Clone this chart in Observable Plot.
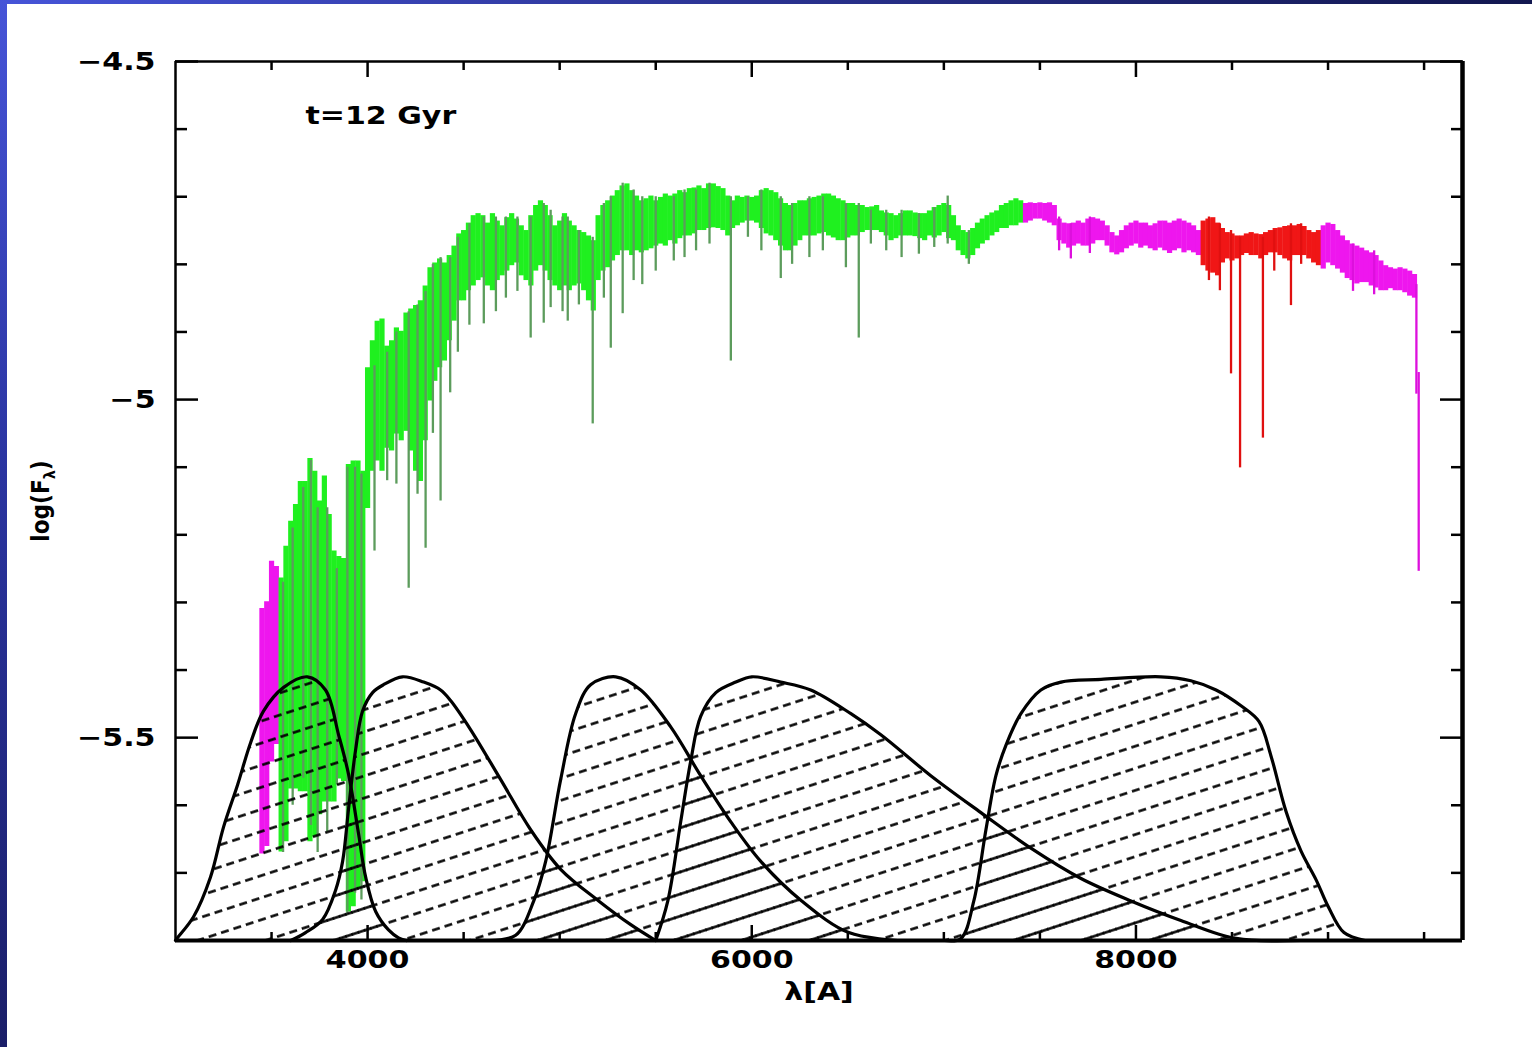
<!DOCTYPE html>
<html>
<head>
<meta charset="utf-8">
<script src="https://cdn.jsdelivr.net/npm/d3@7"></script>
<script src="https://cdn.jsdelivr.net/npm/@observablehq/plot@0.6"></script>
<style>
html, body { margin: 0; padding: 0; background: #ffffff; }
#wrap { position: relative; width: 1532px; height: 1047px; overflow: hidden; background: #ffffff; }
#chart { position: absolute; left: 0; top: 0; }
#bandLeft { position: absolute; left: 0; top: 0; width: 7px; height: 1047px; background: linear-gradient(#4654d8, #2a34a0 45%, #1a1e68); }
#bandTop { position: absolute; left: 0; top: 0; width: 1532px; height: 4px; background: linear-gradient(90deg, #4654d8, #2a3290 50%, #12174f); }
</style>
</head>
<body>
<div id="wrap"><div id="chart"></div><div id="bandLeft"></div><div id="bandTop"></div></div>
<script>
// ---------- axes ----------
const xDomain = [3000, 9700];
const yDomain = [-5.8, -4.5];
const xMajor = [4000, 6000, 8000];
const xMinor = [3500, 4500, 5000, 5500, 6500, 7000, 7500, 8500, 9000, 9500];
const yMajor = [-4.5, -5, -5.5];
const yMinor = [-4.6, -4.7, -4.8, -4.9, -5.1, -5.2, -5.3, -5.4, -5.6, -5.7];
const annotation = "t=12 Gyr";
const xLabel = "λ[A]";

// ---------- spectrum: [wavelength, upper logF, lower logF] per 25 Å bin ----------
const spectrum = [
[3450,-5.309,-5.672],[3475,-5.299,-5.661],[3500,-5.239,-5.536],[3525,-5.247,-5.510],
[3550,-5.264,-5.669],[3575,-5.217,-5.654],[3600,-5.180,-5.576],[3625,-5.155,-5.576],
[3650,-5.121,-5.580],[3675,-5.121,-5.580],[3700,-5.087,-5.654],[3725,-5.106,-5.647],
[3750,-5.150,-5.614],[3775,-5.113,-5.595],[3800,-5.170,-5.595],[3825,-5.224,-5.595],
[3850,-5.232,-5.561],[3875,-5.235,-5.565],[3900,-5.096,-5.758],[3925,-5.091,-5.750],
[3950,-5.091,-5.724],[3975,-5.106,-5.713],
[4000,-4.953,-5.161],[4025,-4.913,-5.106],[4050,-4.884,-5.091],[4075,-4.881,-5.106],
[4100,-4.921,-5.072],[4125,-4.913,-5.076],[4150,-4.894,-5.051],[4175,-4.899,-5.061],
[4200,-4.872,-5.047],[4225,-4.866,-5.076],[4250,-4.861,-5.106],[4275,-4.854,-5.121],
[4300,-4.832,-5.061],[4325,-4.805,-5.002],[4350,-4.798,-4.973],[4375,-4.792,-4.953],
[4400,-4.798,-4.943],[4425,-4.787,-4.913],[4450,-4.773,-4.884],[4475,-4.755,-4.854],
[4500,-4.750,-4.854],[4525,-4.739,-4.839],[4550,-4.728,-4.832],[4575,-4.725,-4.824],
[4600,-4.728,-4.820],[4625,-4.739,-4.832],[4650,-4.725,-4.839],[4675,-4.736,-4.824],
[4700,-4.743,-4.817],[4725,-4.731,-4.810],[4750,-4.725,-4.802],[4775,-4.733,-4.798],
[4800,-4.743,-4.817],[4825,-4.750,-4.824],[4850,-4.728,-4.832],[4875,-4.713,-4.810],
[4900,-4.706,-4.802],[4925,-4.713,-4.810],[4950,-4.728,-4.824],[4975,-4.743,-4.832],
[5000,-4.736,-4.839],[5025,-4.725,-4.832],[5050,-4.736,-4.839],[5075,-4.743,-4.832],
[5100,-4.750,-4.829],[5125,-4.753,-4.839],[5150,-4.758,-4.854],[5175,-4.765,-4.869],
[5200,-4.728,-4.824],[5225,-4.713,-4.810],[5250,-4.706,-4.805],[5275,-4.699,-4.795],
[5300,-4.691,-4.787],[5325,-4.684,-4.780],[5350,-4.681,-4.780],[5375,-4.691,-4.787],
[5400,-4.699,-4.780],[5425,-4.706,-4.783],[5450,-4.703,-4.780],[5475,-4.699,-4.777],
[5500,-4.706,-4.773],[5525,-4.701,-4.770],[5550,-4.696,-4.773],[5575,-4.699,-4.765],
[5600,-4.696,-4.770],[5625,-4.691,-4.762],[5650,-4.694,-4.758],[5675,-4.688,-4.758],
[5700,-4.687,-4.755],[5725,-4.684,-4.750],[5750,-4.688,-4.750],[5775,-4.681,-4.747],
[5800,-4.681,-4.746],[5825,-4.685,-4.747],[5850,-4.688,-4.750],[5875,-4.699,-4.758],
[5900,-4.706,-4.747],[5925,-4.699,-4.743],[5950,-4.701,-4.739],[5975,-4.699,-4.736],
[6000,-4.701,-4.736],[6025,-4.699,-4.739],[6050,-4.691,-4.747],[6075,-4.688,-4.755],
[6100,-4.691,-4.758],[6125,-4.694,-4.765],[6150,-4.703,-4.773],[6175,-4.710,-4.780],
[6200,-4.713,-4.780],[6225,-4.710,-4.773],[6250,-4.706,-4.765],[6275,-4.706,-4.758],
[6300,-4.703,-4.758],[6325,-4.701,-4.758],[6350,-4.699,-4.755],[6375,-4.696,-4.753],
[6400,-4.696,-4.758],[6425,-4.699,-4.761],[6450,-4.703,-4.765],[6475,-4.706,-4.765],
[6500,-4.710,-4.761],[6525,-4.710,-4.758],[6550,-4.713,-4.758],[6575,-4.713,-4.753],
[6600,-4.716,-4.750],[6625,-4.715,-4.750],[6650,-4.713,-4.750],[6675,-4.721,-4.753],
[6700,-4.724,-4.758],[6725,-4.725,-4.765],[6750,-4.728,-4.762],[6775,-4.725,-4.758],
[6800,-4.721,-4.758],[6825,-4.721,-4.758],[6850,-4.724,-4.759],[6875,-4.725,-4.762],
[6900,-4.725,-4.765],[6925,-4.721,-4.758],[6950,-4.716,-4.761],[6975,-4.713,-4.758],
[7000,-4.710,-4.753],[7025,-4.713,-4.762],[7050,-4.728,-4.765],[7075,-4.743,-4.780],
[7100,-4.750,-4.787],[7125,-4.753,-4.792],[7150,-4.747,-4.787],[7175,-4.739,-4.777],
[7200,-4.733,-4.770],[7225,-4.728,-4.765],[7250,-4.724,-4.758],[7275,-4.721,-4.753],
[7300,-4.713,-4.747],[7325,-4.710,-4.747],[7350,-4.706,-4.743],[7375,-4.703,-4.743],
[7400,-4.706,-4.739],[7425,-4.710,-4.739],[7450,-4.709,-4.736],[7475,-4.710,-4.733],
[7500,-4.709,-4.733],[7525,-4.710,-4.736],[7550,-4.709,-4.739],[7575,-4.713,-4.743],
[7600,-4.733,-4.765],[7625,-4.739,-4.770],[7650,-4.740,-4.776],[7675,-4.739,-4.773],
[7700,-4.736,-4.770],[7725,-4.739,-4.773],[7750,-4.733,-4.773],[7775,-4.731,-4.770],
[7800,-4.733,-4.765],[7825,-4.736,-4.765],[7850,-4.743,-4.773],[7875,-4.753,-4.783],
[7900,-4.758,-4.786],[7925,-4.750,-4.783],[7950,-4.743,-4.777],[7975,-4.739,-4.773],
[8000,-4.736,-4.770],[8025,-4.739,-4.776],[8050,-4.739,-4.773],[8075,-4.743,-4.777],
[8100,-4.740,-4.780],[8125,-4.736,-4.776],[8150,-4.736,-4.780],[8175,-4.739,-4.784],
[8200,-4.736,-4.780],[8225,-4.733,-4.777],[8250,-4.736,-4.783],[8275,-4.739,-4.780],
[8300,-4.743,-4.783],[8325,-4.750,-4.787],[8350,-4.736,-4.802],[8375,-4.733,-4.810],
[8400,-4.731,-4.813],[8425,-4.739,-4.817],[8450,-4.747,-4.798],[8475,-4.753,-4.792],
[8500,-4.755,-4.795],[8525,-4.758,-4.792],[8550,-4.758,-4.787],[8575,-4.755,-4.784],
[8600,-4.753,-4.787],[8625,-4.755,-4.787],[8650,-4.756,-4.792],[8675,-4.753,-4.787],
[8700,-4.750,-4.783],[8725,-4.747,-4.783],[8750,-4.746,-4.787],[8775,-4.744,-4.792],
[8800,-4.743,-4.795],[8825,-4.743,-4.787],[8850,-4.741,-4.787],[8875,-4.744,-4.787],
[8900,-4.750,-4.792],[8925,-4.753,-4.798],[8950,-4.750,-4.802],[8975,-4.743,-4.807],
[9000,-4.739,-4.798],[9025,-4.741,-4.802],[9050,-4.750,-4.807],[9075,-4.758,-4.813],
[9100,-4.765,-4.821],[9125,-4.770,-4.824],[9150,-4.773,-4.829],[9175,-4.776,-4.827],
[9200,-4.780,-4.827],[9225,-4.783,-4.832],[9250,-4.787,-4.835],[9275,-4.795,-4.839],
[9300,-4.802,-4.839],[9325,-4.805,-4.836],[9350,-4.807,-4.839],[9375,-4.805,-4.839],
[9400,-4.807,-4.842],[9425,-4.810,-4.847],[9450,-4.815,-4.850]
];

// ---------- narrow absorption features: [wavelength, top logF, bottom logF] ----------
const absorption = [
[3560,-5.27,-5.67],[3610,-5.19,-5.60],[3665,-5.13,-5.56],[3705,-5.09,-5.63],[3740,-5.16,-5.67],
[3790,-5.16,-5.64],[3840,-5.25,-5.57],[3895,-5.10,-5.76],[3935,-5.10,-5.73],[3968,-5.11,-5.74],
[4036,-4.95,-5.224],[4102,-4.93,-5.12],[4150,-4.90,-5.125],[4214,-4.87,-5.279],[4260,-4.86,-5.14],
[4302,-4.84,-5.220],[4340,-4.80,-5.05],[4380,-4.79,-5.150],[4430,-4.79,-4.99],[4470,-4.76,-4.93],
[4530,-4.74,-4.89],[4605,-4.73,-4.888],[4668,-4.73,-4.87],[4720,-4.73,-4.85],[4780,-4.73,-4.84],
[4849,-4.73,-4.909],[4917,-4.71,-4.887],[4953,-4.72,-4.864],[5015,-4.73,-4.87],[5042,-4.73,-4.884],
[5100,-4.75,-4.86],[5172,-4.76,-5.036],[5230,-4.71,-4.85],[5266,-4.70,-4.924],[5328,-4.68,-4.873],
[5385,-4.69,-4.824],[5430,-4.70,-4.83],[5500,-4.70,-4.81],[5594,-4.70,-4.795],[5650,-4.69,-4.79],
[5710,-4.69,-4.78],[5780,-4.68,-4.77],[5891,-4.70,-4.943],[5980,-4.70,-4.76],[6050,-4.69,-4.78],
[6151,-4.70,-4.821],[6210,-4.71,-4.80],[6300,-4.70,-4.79],[6370,-4.70,-4.78],[6490,-4.71,-4.805],
[6557,-4.71,-4.909],[6620,-4.72,-4.77],[6700,-4.72,-4.78],[6780,-4.72,-4.79],[6870,-4.725,-4.785],
[6950,-4.716,-4.775],[7020,-4.699,-4.77],[7130,-4.75,-4.80],
[7600,-4.73,-4.78],[7661,-4.74,-4.792],[7760,-4.73,-4.784],
[8380,-4.73,-4.824],[8437,-4.74,-4.839],[8495,-4.75,-4.962],[8542,-4.76,-5.101],[8661,-4.76,-5.057],
[8720,-4.75,-4.81],[8807,-4.74,-4.861],[8860,-4.74,-4.80],
[9130,-4.77,-4.84],[9240,-4.78,-4.845],[9460,-4.83,-4.992],[9472,-4.96,-5.254]
];

// ---------- wavelength ranges of each colour segment ----------
const segmentEdges = [3536, 7411, 8338, 8953];
const segmentNames = ["magenta", "green", "magenta", "red", "magenta"];
const bodyColors = {magenta: "#ee16ee", green: "#1ff01f", red: "#f01616"};
const lineColors = {magenta: "#dd10dd", green: "#5c9c5c", red: "#e01010"};

// ---------- filter transmission curves: [wavelength, relative transmission] ----------
const filterU = [[3000,0],[3010,0.01],[3094,0.09],[3182,0.24],[3250,0.43],[3323,0.59],[3391,0.75],[3458,0.87],[3563,0.96],[3687,1.00],[3781,0.95],[3849,0.78],[3901,0.63],[3953,0.405],[3990,0.24],[4042,0.11],[4109,0.04],[4161,0.01],[4200,0]];
const filterB = [[3600,0],[3677,0.03],[3766,0.08],[3833,0.19],[3870,0.30],[3901,0.50],[3937,0.72],[3974,0.87],[4026,0.94],[4083,0.97],[4182,1.00],[4292,0.98],[4380,0.95],[4432,0.91],[4536,0.80],[4693,0.61],[4849,0.42],[5005,0.27],[5203,0.15],[5370,0.06],[5500,0]];
const filterV = [[4641,0],[4771,0.02],[4865,0.15],[4927,0.30],[5005,0.61],[5083,0.86],[5161,0.97],[5292,1.00],[5422,0.95],[5578,0.81],[5734,0.625],[5891,0.45],[6047,0.30],[6260,0.15],[6505,0.03],[6760,0]];
const filterR = [[5500,0],[5563,0.15],[5630,0.45],[5682,0.68],[5734,0.85],[5813,0.94],[5917,0.98],[6000,1.00],[6151,0.98],[6307,0.95],[6516,0.86],[6672,0.78],[6932,0.625],[7193,0.485],[7453,0.35],[7714,0.235],[7974,0.15],[8234,0.076],[8521,0.008],[8860,0]];
const filterI = [[7005,0],[7089,0.008],[7156,0.15],[7219,0.42],[7271,0.625],[7323,0.74],[7401,0.86],[7505,0.95],[7609,0.98],[7818,0.99],[8130,1.00],[8286,0.985],[8417,0.95],[8547,0.89],[8641,0.83],[8703,0.70],[8781,0.49],[8859,0.34],[8938,0.23],[9000,0.13],[9083,0.03],[9193,0]];
const filterBase = -5.8;   // zero transmission level on the log(F) axis
const filterPeak = -5.41;  // full transmission level on the log(F) axis

// ---------- helpers ----------
const seg = lam => segmentNames[d3.bisectRight(segmentEdges, lam)];
const fy = d => filterBase + d[1] * (filterPeak - filterBase);
const filters = [[filterU, "hatchA"], [filterB, "hatchB"], [filterV, "hatchA"], [filterR, "hatchB"], [filterI, "hatchA"]];

const filterMarks = filters.flatMap(([data, pat]) => [
  Plot.areaY(data, {x: d => d[0], y1: filterBase, y2: fy, fill: `url(#${pat})`, curve: "catmull-rom"}),
  Plot.line(data, {x: d => d[0], y: fy, stroke: "#000", strokeWidth: 3.2, curve: "catmull-rom"})
]);

const tickOpts = {stroke: "#000", strokeWidth: 2.5, fill: "none", label: null};
const labelOpts = {tickSize: 0, label: null, fontSize: 25, fontWeight: "bold"};

const chart = Plot.plot({
  width: 1532,
  height: 1047,
  marginLeft: 175,
  marginRight: 70,
  marginTop: 61,
  marginBottom: 107,
  x: {domain: xDomain},
  y: {domain: yDomain},
  style: {background: "transparent", color: "#000", fontFamily: "'DejaVu Sans', sans-serif", fontWeight: "bold", overflow: "visible"},
  marks: [
    Plot.ruleX(spectrum, {x: d => d[0], y1: d => d[1], y2: d => d[2], stroke: d => bodyColors[seg(d[0])], strokeWidth: 5.2}),
    Plot.ruleX(absorption, {x: d => d[0], y1: d => d[1], y2: d => d[2], stroke: d => lineColors[seg(d[0])], strokeWidth: 2.3}),
    ...filterMarks,
    Plot.ruleY([yDomain[1]], {stroke: "#000", strokeWidth: 2.5}),
    Plot.ruleY([yDomain[0]], {stroke: "#000", strokeWidth: 4}),
    Plot.ruleX([xDomain[0]], {stroke: "#000", strokeWidth: 2.5}),
    Plot.ruleX([xDomain[1]], {stroke: "#000", strokeWidth: 4.5}),
    Plot.axisX(xMajor, {anchor: "bottom", tickSize: -15, ...tickOpts}),
    Plot.axisX(xMajor, {anchor: "top", tickSize: -15, ...tickOpts}),
    Plot.axisX(xMinor, {anchor: "bottom", tickSize: -8, ...tickOpts}),
    Plot.axisX(xMinor, {anchor: "top", tickSize: -8, ...tickOpts}),
    Plot.axisY(yMajor, {anchor: "left", tickSize: -23, ...tickOpts}),
    Plot.axisY(yMajor, {anchor: "right", tickSize: -23, ...tickOpts}),
    Plot.axisY(yMinor, {anchor: "left", tickSize: -12, ...tickOpts}),
    Plot.axisY(yMinor, {anchor: "right", tickSize: -12, ...tickOpts}),
    Plot.axisX(xMajor, {anchor: "bottom", tickPadding: 10, tickFormat: d => String(d), ...labelOpts}),
    Plot.axisY(yMajor, {anchor: "left", tickPadding: 20, tickFormat: d => "\u2212" + String(Math.abs(d)), ...labelOpts}),
    Plot.text([annotation], {frameAnchor: "top-left", dx: 130, dy: 54, textAnchor: "start", lineAnchor: "middle", fontSize: 25, fontWeight: "bold"}),
    Plot.text([xLabel], {frameAnchor: "bottom", dy: 51, lineAnchor: "middle", fontSize: 25, fontWeight: "bold"}),
    Plot.text(["log(F)"], {frameAnchor: "left", dx: -134, rotate: -90, textAnchor: "middle", lineAnchor: "middle", fontSize: 24, fontWeight: "bold"})
  ]
});

document.getElementById("chart").appendChild(chart);

// hatch patterns
const svg = d3.select(chart);
const defs = svg.insert("defs", ":first-child");
[["hatchA", 0], ["hatchB", 6.5]].forEach(([id, off]) => {
  const p = defs.append("pattern")
    .attr("id", id)
    .attr("patternUnits", "userSpaceOnUse")
    .attr("width", 26).attr("height", 21)
    .attr("patternTransform", `rotate(-18) translate(${off},0)`);
  p.append("line")
    .attr("x1", 0).attr("x2", 26).attr("y1", 10.5).attr("y2", 10.5)
    .attr("stroke", "#000").attr("stroke-width", 2.7).attr("stroke-dasharray", "8 5");
});

// wide-set lettering and subscript in the y label
svg.selectAll("text").each(function() {
  const t = this.textContent;
  if (t === "log(F)") {
    const sel = d3.select(this);
    sel.text(null);
    sel.append("tspan").text("log(F");
    sel.append("tspan").attr("dy", 6).attr("font-size", 16).text("λ");
    sel.append("tspan").attr("dy", -6).text(")");
    const len = this.getComputedTextLength();
    this.setAttribute("textLength", (len * 0.9).toFixed(1));
    this.setAttribute("lengthAdjust", "spacingAndGlyphs");
  } else {
    const len = this.getComputedTextLength();
    this.setAttribute("textLength", (len * 1.2).toFixed(1));
    this.setAttribute("lengthAdjust", "spacingAndGlyphs");
  }
});
</script>
</body>
</html>
